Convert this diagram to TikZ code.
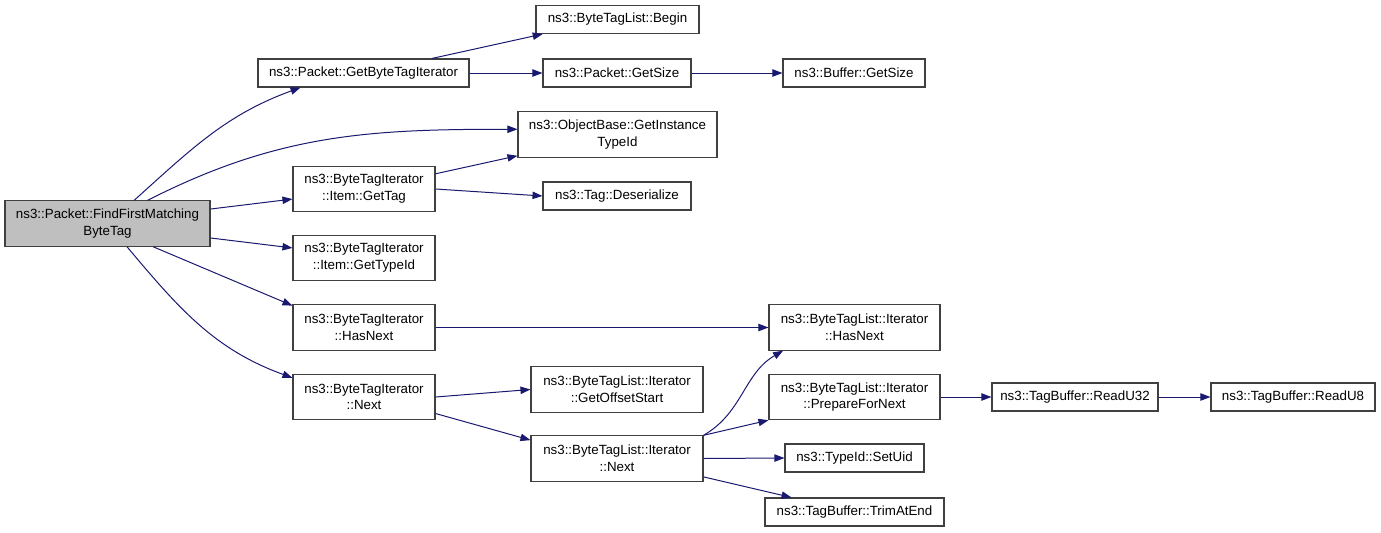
\documentclass[tikz,border=0pt]{standalone}
\usepackage{fontspec}
\setmainfont{Liberation Sans}
\definecolor{callblue}{RGB}{25, 25, 112}
\definecolor{boxgray}{RGB}{64, 64, 64}
\definecolor{rootgray}{RGB}{191, 191, 191}
\usetikzlibrary{arrows.meta}

\begin{document}
\begin{tikzpicture}[x=0.75pt, y=0.75pt,
  fn/.style={draw=boxgray, line width=0.8pt, fill=white, align=center, inner sep=1pt,
    font=\fontsize{10}{12.5}\selectfont, minimum height=21pt},
  fntwo/.style={fn, minimum height=34pt},
  call/.style={callblue, line width=0.75pt, -{Triangle[length=7.5pt, width=5.5pt]}}]
  \useasboundingbox (0,0) rectangle (1381,-532);

  % Caller
  \node[fntwo, fill=rootgray, minimum width=153.75pt] (root) at (107.5,-223.5) {ns3::Packet::FindFirstMatching\\ByteTag};

  % First level
  \node[fn, minimum width=158.25pt] (gbti) at (363.5,-73) {ns3::Packet::GetByteTagIterator};
  \node[fntwo, minimum width=106.5pt] (gettag) at (364,-189) {ns3::ByteTagIterator\\::Item::GetTag};
  \node[fntwo, minimum width=106.5pt] (gettypeid) at (364,-258) {ns3::ByteTagIterator\\::Item::GetTypeId};
  \node[fntwo, minimum width=106.5pt] (hasnext) at (364,-327.5) {ns3::ByteTagIterator\\::HasNext};
  \node[fntwo, minimum width=106.5pt] (next) at (364,-397) {ns3::ByteTagIterator\\::Next};

  % Second level
  \node[fn, minimum width=122.25pt] (begin) at (617.5,-19.5) {ns3::ByteTagList::Begin};
  \node[fn, minimum width=111pt] (psize) at (617,-73) {ns3::Packet::GetSize};
  \node[fntwo, minimum width=149.25pt] (obase) at (617.5,-134.5) {ns3::ObjectBase::GetInstance\\TypeId};
  \node[fn, minimum width=111pt] (deser) at (617,-196) {ns3::Tag::Deserialize};
  \node[fntwo, minimum width=129pt] (offset) at (617,-389.5) {ns3::ByteTagList::Iterator\\::GetOffsetStart};
  \node[fntwo, minimum width=129pt] (lnext) at (617,-458.5) {ns3::ByteTagList::Iterator\\::Next};

  % Third level
  \node[fn, minimum width=106.5pt] (bsize) at (854,-73) {ns3::Buffer::GetSize};
  \node[fntwo, minimum width=128.25pt] (lhasnext) at (854.5,-327.5) {ns3::ByteTagList::Iterator\\::HasNext};
  \node[fntwo, minimum width=128.25pt] (prep) at (854.5,-397) {ns3::ByteTagList::Iterator\\::PrepareForNext};
  \node[fn, minimum width=104.25pt] (setuid) at (854.5,-458) {ns3::TypeId::SetUid};
  \node[fn, minimum width=134.25pt] (trim) at (854.5,-512) {ns3::TagBuffer::TrimAtEnd};

  % Fourth level
  \node[fn, minimum width=124.5pt] (read32) at (1075,-397) {ns3::TagBuffer::ReadU32};
  \node[fn, minimum width=123pt] (read8) at (1293,-397) {ns3::TagBuffer::ReadU8};

  % Calls from the caller
  \draw[call] (root.41) to[out=42, in=200] (gbti.193.5);
  \draw[call] (root.30) to[out=27, in=180] (obase.177);
  \draw[call] (root.8) -- (gettag.188);
  \draw[call] (root.-8) -- (gettypeid.172);
  \draw[call] (root.-27) -- (hasnext.163);
  \draw[call] (root.-50) to[out=-50, in=160] (next.165);

  % Deeper calls
  \draw[call] (gbti.12) -- (begin.191);
  \draw[call] (gbti.east) -- (psize.west);
  \draw[call] (psize.east) -- (bsize.west);
  \draw[call] (gettag.12.7) -- (obase.192.7);
  \draw[call] (gettag.east) -- (deser.west);
  \draw[call] (hasnext.east) -- (lhasnext.west);
  \draw[call] (next.east) -- (offset.west);
  \draw[call] (next.-13.5) -- (lnext.168);
  \draw[call] (lnext.15.7) to[out=30, in=210] (lhasnext.198);
  \draw[call] (lnext.north east) -- (prep.south west);
  \draw[call] (lnext.east) -- (setuid.west);
  \draw[call] (lnext.-12.8) -- (trim.167.8);
  \draw[call] (prep.east) -- (read32.west);
  \draw[call] (read32.east) -- (read8.west);
\end{tikzpicture}
\end{document}
